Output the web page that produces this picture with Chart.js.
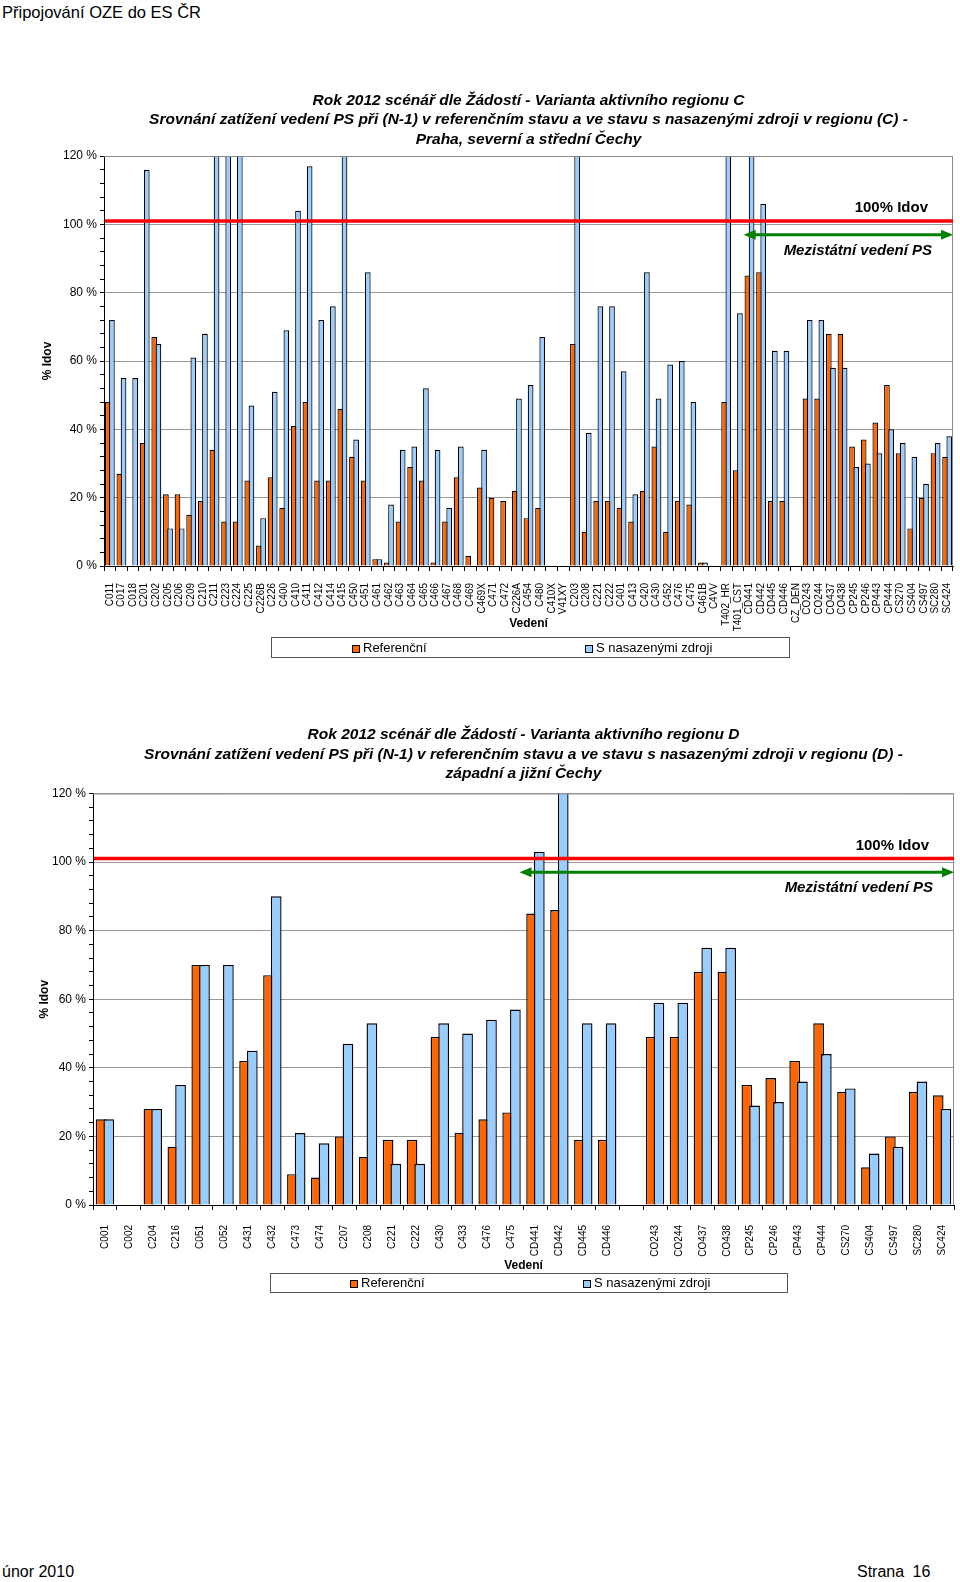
<!DOCTYPE html>
<html><head><meta charset="utf-8">
<script src="https://cdn.jsdelivr.net/npm/chart.js@4.4.1/dist/chart.umd.min.js"></script>
<style>
body{margin:0;width:960px;height:1582px;position:relative;background:#fff;font-family:"Liberation Sans",Arial,sans-serif;overflow:hidden;color:#000}
.abs{position:absolute}
#hdr{left:2px;top:3px;font-size:16.5px;line-height:18px;white-space:nowrap}
#f1{left:2px;top:1563px;font-size:16px;line-height:18px}
#f2{left:857px;top:1563px;font-size:16px;line-height:18px;word-spacing:4px;white-space:nowrap}
.lg{border:1px solid #555;box-sizing:border-box;font-size:13px}
.lg .sw{position:absolute;width:8px;height:8px;border:1px solid #000;box-sizing:border-box}
.lg .tx{position:absolute;white-space:nowrap;line-height:15px}
</style></head><body>
<div id="hdr" class="abs">Připojování OZE do ES ČR</div>
<canvas id="c1" class="abs" width="960" height="600" style="left:0;top:80px"></canvas>
<div id="lg1" class="abs lg" style="left:271px;top:637px;width:519px;height:21px"></div>
<canvas id="c2" class="abs" width="960" height="600" style="left:0;top:700px"></canvas>
<div id="lg2" class="abs lg" style="left:270px;top:1273px;width:518px;height:20px"></div>
<div id="f1" class="abs">únor 2010</div>
<div id="f2" class="abs">Strana 16</div>
<script>
// ---------- DATA: region C ----------
const catsC = ['C011','C017','C018','C201','C202','C205','C206','C209','C210','C211','C223','C224','C225','C226B','C226','C400','C410','C411','C412','C414','C415','C450','C451','C461','C462','C463','C464','C465','C466','C467','C468','C469','C469X','C471','C472','C226A','C454','C480','C410X','V41XY','C203','C208','C221','C222','C401','C413','C420','C430','C452','C476','C475','C461B','C4VV','T402_HR','T401_CST','CD441','CD442','CD445','CD446','CZ_DEN','CO243','CO244','CO437','CO438','CP245','CP246','CP443','CP444','CS270','CS404','CS497','SC280','SC424'];
const refC = [48,27,null,36,67,21,21,15,19,34,13,13,25,6,26,17,41,48,25,25,46,32,25,2,1,13,29,25,1,13,26,3,23,20,19,22,14,17,null,null,65,10,19,19,17,13,22,35,10,19,18,1,null,48,28,85,86,19,19,null,49,49,68,68,35,37,42,53,33,11,20,33,32];
const srcC = [72,55,55,116,65,11,11,61,68,130,130,130,47,14,51,69,104,117,72,76,130,37,86,2,18,34,35,52,34,17,35,null,34,null,null,49,53,67,null,null,130,39,76,76,57,21,86,49,59,60,48,1,null,130,74,130,106,63,63,null,72,72,58,58,29,30,33,40,36,32,24,36,38];
const titleC = ['Rok 2012 scénář dle Žádostí - Varianta aktivního regionu C','Srovnání zatížení vedení PS při (N-1) v referenčním stavu a ve stavu s nasazenými zdroji v regionu (C) -','Praha, severní a střední Čechy'];

// ---------- DATA: region D ----------
const catsD = ['C001','C002','C204','C216','C051','C052','C431','C432','C473','C474','C207','C208','C221','C222','C430','C433','C476','C475','CD441','CD442','CD445','CD446','','CO243','CO244','CO437','CO438','CP245','CP246','CP443','CP444','CS270','CS404','CS497','SC280','SC424'];
const refD = [25,null,28,17,70,null,42,67,9,8,20,14,19,19,49,21,25,27,85,86,19,19,null,49,49,68,68,35,37,42,53,33,11,20,33,32];
const srcD = [25,null,28,35,70,70,45,90,21,18,47,53,12,12,53,50,54,57,103,121,53,53,null,59,59,75,75,29,30,36,44,34,15,17,36,28];
const titleD = ['Rok 2012 scénář dle Žádostí - Varianta aktivního regionu D','Srovnání zatížení vedení PS při (N-1) v referenčním stavu a ve stavu s nasazenými zdroji v regionu (D) -','západní a jižní Čechy'];

// ---------- shared ----------
const seriesNames = ['Referenční','S nasazenými zdroji'];
const yTicks = [0,20,40,60,80,100,120];
const IDOV_LEVEL = 101;        // red 100% Idov line
const ARROW_LEVEL = 97;        // green arrow level
const INTL_FIRST = 'CD441';    // first cross-border line
const LABEL_IDOV = '100% Idov';
const LABEL_INTL = 'Mezistátní vedení PS';

const COL_REF = '#FF6600', COL_SRC = '#99CCFF';
Chart.defaults.font.family = "'Liberation Sans', Arial, sans-serif";
Chart.defaults.color = '#000';

const overlay = {
  id: 'overlay',
  beforeDatasetDraw(chart, args) { if (args.index === 1) return false; },
  afterDatasetsDraw(chart, args, opts) {
    const {ctx, chartArea: a, scales: {x, y}} = chart;
    ctx.save();
    ctx.beginPath(); ctx.rect(a.left, a.top, a.right - a.left, a.bottom - a.top); ctx.clip();
    chart.getDatasetMeta(1).controller.draw();
    ctx.restore();
    ctx.save();
    // plot frame (top/right)
    ctx.strokeStyle = '#8c8c8c'; ctx.lineWidth = 1;
    ctx.beginPath(); ctx.moveTo(a.left, a.top + 0.5); ctx.lineTo(a.right - 0.5, a.top + 0.5); ctx.lineTo(a.right - 0.5, a.bottom); ctx.stroke();
    // red limit line
    const ry = y.getPixelForValue(IDOV_LEVEL);
    ctx.strokeStyle = '#ff0000'; ctx.lineWidth = 3.5;
    ctx.beginPath(); ctx.moveTo(a.left + 1, ry); ctx.lineTo(a.right, ry); ctx.stroke();
    // green double arrow
    const i0 = chart.data.labels.indexOf(INTL_FIRST);
    const x0 = (x.getPixelForValue(i0 - 1) + x.getPixelForValue(i0)) / 2 - (opts.arrowLead || 0);
    const x1 = a.right;
    const ay = y.getPixelForValue(ARROW_LEVEL);
    const hl = 12, hw = 5;
    ctx.strokeStyle = '#008000'; ctx.fillStyle = '#008000'; ctx.lineWidth = 3;
    ctx.beginPath(); ctx.moveTo(x0 + hl - 2, ay); ctx.lineTo(x1 - hl + 2, ay); ctx.stroke();
    ctx.beginPath(); ctx.moveTo(x0, ay); ctx.lineTo(x0 + hl, ay - hw); ctx.lineTo(x0 + hl, ay + hw); ctx.closePath(); ctx.fill();
    ctx.beginPath(); ctx.moveTo(x1, ay); ctx.lineTo(x1 - hl, ay - hw); ctx.lineTo(x1 - hl, ay + hw); ctx.closePath(); ctx.fill();
    // texts
    ctx.fillStyle = '#000'; ctx.textAlign = 'right'; ctx.textBaseline = 'middle';
    ctx.font = "bold 15px 'Liberation Sans', Arial, sans-serif";
    ctx.fillText(LABEL_IDOV, a.right - 25, ry - 13);
    ctx.font = "italic bold 15px 'Liberation Sans', Arial, sans-serif";
    ctx.fillText(LABEL_INTL, a.right - 21, ay + 16);
    ctx.restore();
  }
};

function makeChart(id, cats, ref, src, title, L) {
  return new Chart(document.getElementById(id), {
    type: 'bar',
    data: {
      labels: cats,
      datasets: [
        {label: seriesNames[0], data: ref, backgroundColor: COL_REF, borderColor: '#000', borderWidth: L.bw},
        {label: seriesNames[1], data: src, backgroundColor: COL_SRC, borderColor: '#000', borderWidth: L.bw}
      ]
    },
    options: {
      responsive: false, animation: false,
      categoryPercentage: L.cat, barPercentage: L.bar,
      layout: {padding: {left: 0, right: L.padR, top: 0, bottom: L.padB}},
      plugins: {
        legend: {display: false},
        tooltip: {enabled: false},
        overlay: {arrowLead: L.arrowLead},
        title: {display: true, fullSize: false, text: title, color: '#000',
          font: {size: 15.5, style: 'italic', weight: 'bold', lineHeight: 1.27},
          padding: {top: L.tTop, bottom: L.tBot}}
      },
      scales: {
        x: {
          afterFit: s => { s.height = L.xH; s.paddingLeft = 0; s.paddingRight = 0; },
          ticks: {autoSkip: false, maxRotation: 90, minRotation: 90, padding: L.xPad, font: {size: 10}, color: '#000'},
          grid: {offset: true, drawOnChartArea: false, tickLength: 5, color: '#000'},
          border: {color: '#000'},
          title: {display: true, text: 'Vedení', color: '#000', font: {size: 12, weight: 'bold'}, padding: {top: 0, bottom: L.vBot}}
        },
        y: {
          min: yTicks[0], max: yTicks[yTicks.length - 1],
          afterFit: s => { s.width = L.yW; },
          ticks: {stepSize: 4, autoSkip: false, padding: 3, font: {size: 12}, color: '#000',
            callback: v => yTicks.includes(v) ? v + ' %' : ''},
          grid: {color: c => (c.tick && yTicks.includes(c.tick.value)) ? '#999' : 'rgba(0,0,0,0)', tickColor: '#000', tickLength: 4},
          border: {color: '#000'},
          title: {display: true, text: '% Idov', color: '#000', font: {size: 12, weight: 'bold'}, padding: {top: L.yTitle, bottom: 0}}
        }
      }
    },
    plugins: [overlay]
  });
}

function makeLegend(chart, el, offs) {
  chart.data.datasets.forEach((ds, i) => {
    const sw = document.createElement('div'); sw.className = 'sw';
    sw.style.left = offs[i] + 'px'; sw.style.top = offs.swTop + 'px'; sw.style.background = ds.backgroundColor;
    const tx = document.createElement('div'); tx.className = 'tx'; tx.textContent = ds.label;
    tx.style.left = (offs[i] + 11) + 'px'; tx.style.top = offs.txTop + 'px';
    el.appendChild(sw); el.appendChild(tx);
  });
}

const ch1 = makeChart('c1', catsC, refC, srcC, titleC,
  {bw: 1.2, cat: 0.72, bar: 1.36, padR: 7, padB: 40, tTop: 10.5, tBot: 6.5, xH: 74, xPad: 12, vBot: 8.8, yW: 104, yTitle: 40.8, arrowLead: 0});
const ch2 = makeChart('c2', catsD, refD, srcD, titleD,
  {bw: 1.4, cat: 0.644, bar: 1.39, padR: 6, padB: 25, tTop: 25, tBot: 9.4, xH: 70, xPad: 15, vBot: 1.8, yW: 93, yTitle: 37.8, arrowLead: 4});
makeLegend(ch1, document.getElementById('lg1'), {0: 80, 1: 313, swTop: 7, txTop: 2});
makeLegend(ch2, document.getElementById('lg2'), {0: 79, 1: 312, swTop: 6, txTop: 1});
</script>
</body></html>
